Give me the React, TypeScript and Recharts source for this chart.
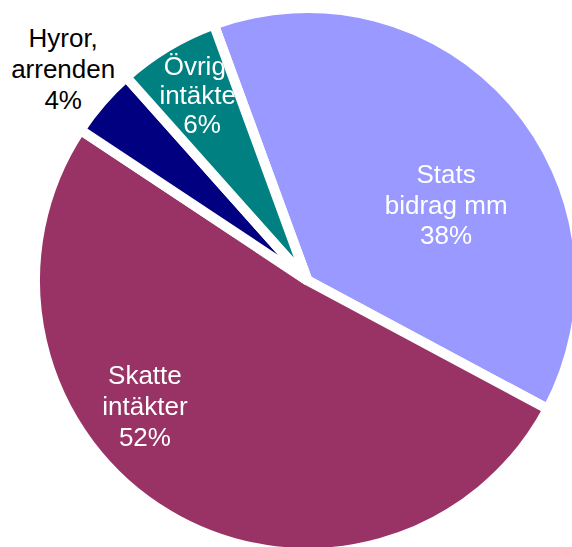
import { PieChart, Pie, Cell, Sector } from 'recharts';

const categories = ['Stats\nbidrag mm', 'Skatte\nintäkter', 'Hyror,\narrenden', 'Övriga\nintäkter'];
const shares = [38.4, 51.5, 4.1, 6.0];
const colors = ['#9999FF', '#993366', '#000080', '#008080'];

const data = categories.map((name, i) => ({ name, value: shares[i] }));

// where each label sits: fraction of the radius, angle nudge from the slice middle
const labelSpots = [
  { r: 0.565, nudge: -15.2, line: 30.8, color: '#ffffff', inside: true },
  { r: 0.775, nudge: -19.5, line: 30.8, color: '#ffffff', inside: true },
  { r: 1.164, nudge: 1.3, line: 30.8, color: '#000000', inside: false },
  { r: 0.756, nudge: -0.1, line: 29, color: '#ffffff', inside: true },
];

const RAD = Math.PI / 180;
const GAP = 10;

// eslint-disable-next-line @typescript-eslint/no-explicit-any
const renderLabel = (props: any) => {
  const { cx, cy, midAngle, outerRadius, percent, index, startAngle, endAngle } = props;
  const spot = labelSpots[index];
  const ang = (midAngle + spot.nudge) * RAD;
  const x = cx + outerRadius * spot.r * Math.cos(ang);
  const y = cy - outerRadius * spot.r * Math.sin(ang);
  const lines = [...categories[index].split('\n'), `${Math.round(percent * 100)}%`];
  const maskId = `slice-mask-${index}`;
  return (
    <g key={maskId}>
      {spot.inside && (
        <defs>
          <mask id={maskId} maskUnits="userSpaceOnUse" x={0} y={0} width={572} height={547}>
            <Sector cx={cx} cy={cy} innerRadius={0} outerRadius={outerRadius}
              startAngle={startAngle} endAngle={endAngle}
              fill="#ffffff" stroke="#000000" strokeWidth={GAP} />
          </mask>
        </defs>
      )}
      <text
        x={x}
        y={y - spot.line}
        textAnchor="middle"
        fill={spot.color}
        fontSize={26}
        fontFamily="'Liberation Sans', Arial, sans-serif"
        mask={spot.inside ? `url(#${maskId})` : undefined}
      >
        {lines.map((t, i) => (
          <tspan key={i} x={x} dy={i === 0 ? 0 : spot.line}>{t}</tspan>
        ))}
      </text>
    </g>
  );
};

export default function App() {
  return (
    <div style={{ position: 'absolute', left: 0, top: 0, width: 572, height: 547, background: '#fff' }}>
      <PieChart width={572} height={547} margin={{ top: 0, right: 0, bottom: 0, left: 0 }}>
        <Pie
          data={data}
          dataKey="value"
          nameKey="name"
          cx={307.5}
          cy={280.5}
          innerRadius={0}
          outerRadius={272.5}
          startAngle={110.1}
          endAngle={-249.9}
          stroke="#ffffff"
          strokeWidth={GAP}
          label={renderLabel}
          labelLine={false}
          isAnimationActive={false}
        >
          {data.map((d, i) => (
            <Cell key={d.name} fill={colors[i]} />
          ))}
        </Pie>
      </PieChart>
    </div>
  );
}
